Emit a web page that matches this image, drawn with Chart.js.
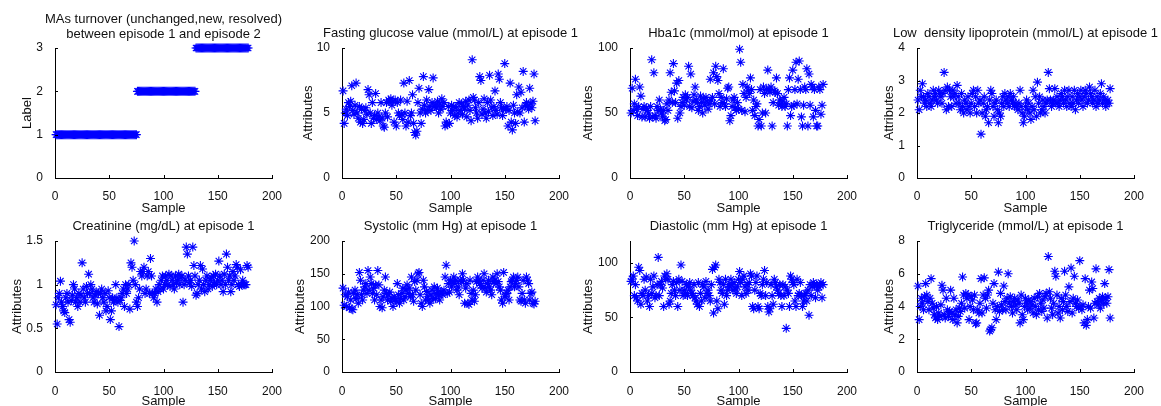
<!DOCTYPE html>
<html>
<head>
<meta charset="utf-8">
<script src="https://cdn.jsdelivr.net/npm/chart.js@4"></script>
<style>
  html, body { margin: 0; padding: 0; background: #fff; overflow: hidden; width: 1161px; height: 406px; }
  canvas { position: absolute; }
</style>
</head>
<body>
<script>
// values, one per sample (sample = index + 1)
const sampleTicks = [0, 50, 100, 150, 200];

const turnoverLabel = [
  1,1,1,1,1,1,1,1,1,1,1,1,1,1,1,1,1,1,1,1,1,1,1,1,1,
  1,1,1,1,1,1,1,1,1,1,1,1,1,1,1,1,1,1,1,1,1,1,1,1,1,
  1,1,1,1,1,1,1,1,1,1,1,1,1,1,1,1,1,1,1,1,1,1,1,1,1,
  2,2,2,2,2,2,2,2,2,2,2,2,2,2,2,2,2,2,2,2,2,2,2,2,2,
  2,2,2,2,2,2,2,2,2,2,2,2,2,2,2,2,2,2,2,2,2,2,2,2,2,
  2,2,2,2,
  3,3,3,3,3,3,3,3,3,3,3,3,3,3,3,3,3,3,3,3,3,3,3,3,3,
  3,3,3,3,3,3,3,3,3,3,3,3,3,3,3,3,3,3,3,3,3,3,3,3
];

const glucose = [
  6.7, 4.2, 5.0, 5.3, 4.8, 5.8, 5.5, 5.9, 7.1, 5.2,
  4.9, 5.6, 7.3, 5.0, 4.6, 5.5, 4.3, 5.3, 4.2, 4.5,
  5.2, 5.4, 4.9, 6.8, 6.4, 5.0, 4.2, 5.8, 4.6, 4.8,
  6.5, 4.5, 5.0, 4.7, 4.4, 5.8, 4.6, 4.0, 3.9, 5.0,
  5.8, 4.7, 6.0, 5.9, 6.1, 5.6, 5.9, 4.3, 6.0, 4.0,
  5.8, 5.0, 4.8, 6.0, 4.9, 4.5, 7.3, 5.0, 4.0, 5.9,
  4.3, 7.5, 4.8, 5.0, 6.4, 4.2, 3.5, 3.3, 3.6, 5.8,
  6.9, 5.0, 4.2, 5.3, 7.8, 5.6, 5.0, 6.0, 5.2, 6.8,
  5.5, 5.2, 5.8, 7.7, 5.5, 5.6, 5.4, 5.9, 5.0, 5.7,
  5.3, 6.1, 5.5, 5.8, 4.0, 4.3, 4.1, 5.5, 4.2, 5.0,
  5.6, 5.2, 5.5, 4.8, 5.4, 4.7, 5.0, 5.8, 5.2, 5.7,
  4.9, 5.5, 5.3, 5.9, 4.7, 5.6, 6.0, 5.2, 4.4, 9.1,
  6.2, 6.0, 5.4, 5.0, 4.6, 5.8, 7.8, 7.5, 4.9, 5.3,
  6.1, 5.0, 4.6, 5.8, 5.1, 7.9, 6.0, 5.4, 4.8, 5.5,
  6.7, 5.2, 4.9, 8.0, 7.6, 5.8, 5.4, 4.8, 5.3, 8.8,
  5.3, 5.5, 4.0, 5.2, 7.3, 4.3, 3.7, 5.6, 5.0, 4.2,
  6.4, 5.1, 7.0, 5.0, 6.6, 5.4, 8.2, 4.3, 5.6, 5.8,
  5.5, 5.3, 6.9, 5.7, 5.4, 5.9, 8.0, 4.4
];

const hba1c = [
  50, 69, 52, 57, 76, 53, 48, 55, 70, 63,
  47, 53, 55, 47, 54, 52, 50, 46, 55, 91,
  47, 81, 48, 46, 55, 52, 60, 53, 50, 47,
  52, 44, 45, 57, 52, 60, 81, 66, 58, 88,
  67, 58, 73, 46, 75, 50, 55, 58, 62, 56,
  64, 60, 62, 86, 55, 80, 54, 59, 64, 70,
  60, 58, 52, 55, 63, 58, 50, 61, 56, 62,
  59, 53, 57, 76, 60, 62, 81, 57, 86, 78,
  75, 65, 55, 62, 58, 84, 57, 55, 61, 69,
  70, 44, 48, 55, 60, 62, 54, 52, 58, 53,
  99, 89, 52, 72, 65, 51, 62, 70, 67, 65,
  77, 68, 52, 60, 48, 55, 57, 40, 45, 68,
  40, 50, 70, 65, 50, 68, 83, 68, 66, 70,
  40, 58, 67, 66, 77, 65, 56, 60, 57, 55,
  59, 62, 55, 57, 40, 68, 77, 48, 55, 83,
  56, 68, 89, 57, 76, 90, 68, 47, 40, 56,
  70, 68, 84, 40, 80, 56, 72, 70, 47, 68,
  52, 40, 40, 70, 68, 49, 56, 72
];

const ldl = [
  2.4, 2.1, 2.7, 2.5, 2.9, 2.5, 2.3, 2.4, 2.2, 2.6,
  2.5, 2.3, 2.2, 2.4, 2.7, 2.5, 2.6, 2.4, 2.3, 2.7,
  2.6, 2.5, 2.3, 2.6, 3.25, 2.7, 2.1, 2.8, 2.2, 2.7,
  2.5, 2.2, 2.7, 2.5, 2.6, 2.3, 2.85, 2.5, 2.3, 2.1,
  2.6, 2.2, 2.0, 2.4, 2.3, 2.1, 2.5, 2.2, 2.0, 2.3,
  2.6, 2.7, 2.2, 2.5, 2.0, 2.7, 2.3, 2.4, 1.35, 2.0,
  2.3, 2.5, 1.9, 2.1, 2.2, 1.7, 2.4, 2.7, 2.6, 2.2,
  1.9, 2.3, 2.4, 2.1, 1.7, 2.0, 1.9, 2.3, 2.5, 2.2,
  2.6, 2.4, 2.3, 2.5, 2.2, 2.6, 2.4, 2.3, 2.5, 2.2,
  2.3, 2.2, 2.1, 2.3, 2.7, 2.2, 2.0, 1.7, 1.9, 2.2,
  2.4, 2.1, 2.3, 2.0, 1.8, 2.2, 2.7, 2.1, 2.5, 1.9,
  2.95, 2.3, 2.5, 2.0, 2.1, 2.4, 2.2, 2.0, 2.3, 2.4,
  3.25, 2.75, 2.4, 2.2, 2.3, 2.4, 2.75, 2.3, 2.5, 2.3,
  2.2, 2.4, 2.6, 2.5, 2.3, 2.7, 2.4, 2.2, 2.5, 2.7,
  2.3, 2.2, 2.5, 2.3, 2.7, 2.1, 2.4, 2.6, 2.3, 2.5,
  2.7, 2.4, 2.2, 2.5, 2.7, 2.6, 2.3, 2.4, 2.8, 2.6,
  2.5, 2.3, 2.4, 2.7, 2.2, 2.5, 2.3, 2.4, 2.6, 2.9,
  2.3, 2.5, 2.4, 2.2, 2.3, 2.4, 2.3, 2.75
];

const creatinine = [
  0.77, 0.55, 0.85, 0.9, 1.04, 0.8, 0.75, 0.7, 0.68, 0.85,
  0.9, 0.8, 0.6, 0.57, 0.82, 0.88, 1.0, 0.95, 0.8, 0.85,
  0.75, 0.9, 0.8, 0.88, 1.25, 0.95, 0.85, 0.8, 0.98, 0.9,
  1.12, 0.9, 1.0, 0.95, 0.85, 0.8, 0.88, 0.92, 0.78, 0.9,
  0.65, 0.9, 0.95, 0.85, 0.8, 0.9, 0.7, 0.75, 0.93, 0.85,
  0.6, 0.7, 0.85, 0.8, 0.82, 1.0, 0.85, 0.8, 0.52, 0.82,
  0.85, 0.9, 0.95, 0.75, 1.0, 0.9, 0.95, 1.0, 0.72, 1.25,
  1.2, 1.05, 1.5, 1.0, 0.8, 0.75, 0.85, 0.95, 1.15, 1.1,
  1.15, 1.2, 0.9, 0.95, 1.1, 1.15, 0.9, 1.3, 1.1, 0.9,
  0.85, 0.9, 0.95, 0.8, 0.92, 1.0, 0.95, 1.05, 1.1, 0.95,
  1.0, 1.1, 1.05, 1.0, 1.12, 0.98, 1.1, 1.05, 1.0, 0.95,
  1.1, 1.02, 1.05, 1.12, 1.0, 1.08, 1.1, 0.8, 1.0, 1.05,
  1.43, 1.35, 1.1, 1.02, 1.05, 0.98, 1.43, 1.22, 1.1, 0.88,
  0.9, 1.0, 1.05, 1.22, 0.95, 1.18, 1.0, 0.92, 1.05, 1.1,
  0.95, 1.0, 1.05, 1.08, 0.98, 1.1, 1.02, 1.12, 1.0, 1.05,
  1.27, 1.1, 1.0, 1.05, 0.92, 1.12, 1.0, 1.35, 1.2, 1.05,
  1.1, 0.92, 1.0, 1.15, 1.05, 1.1, 1.23, 1.2, 1.0, 0.98,
  1.17, 1.0, 1.05, 1.0, 1.0, 1.0, 1.22, 1.2
];

const systolic = [
  128, 102, 118, 100, 115, 122, 98, 110, 96, 95,
  120, 125, 112, 118, 105, 152, 140, 118, 110, 125,
  130, 135, 120, 155, 125, 145, 135, 120, 128, 110,
  133, 118, 155, 133, 100, 110, 98, 115, 125, 145,
  120, 110, 118, 122, 108, 112, 100, 115, 110, 108,
  135, 118, 105, 112, 120, 128, 110, 115, 125, 133,
  120, 128, 115, 145, 118, 108, 138, 125, 140, 150,
  152, 118, 105, 100, 140, 130, 110, 123, 115, 110,
  105, 118, 125, 112, 130, 112, 120, 128, 118, 110,
  122, 120, 118, 125, 145, 163, 120, 135, 122, 140,
  130, 138, 145, 135, 140, 125, 130, 118, 140, 138,
  150, 140, 105, 128, 135, 105, 103, 140, 120, 110,
  125, 108, 118, 138, 145, 140, 135, 132, 128, 140,
  150, 128, 122, 135, 140, 130, 125, 118, 145, 138,
  140, 135, 150, 138, 130, 125, 110, 105, 152, 115,
  118, 120, 125, 110, 130, 138, 140, 145, 130, 135,
  140, 145, 130, 110, 108, 120, 140, 110, 105, 145,
  140, 135, 110, 120, 122, 105, 104, 108
];

const diastolic = [
  83, 85, 88, 70, 80, 68, 65, 96, 93, 62,
  72, 70, 85, 75, 87, 65, 70, 60, 85, 72,
  78, 88, 68, 70, 80, 105, 70, 80, 83, 77,
  60, 88, 85, 90, 85, 62, 65, 72, 80, 83,
  75, 70, 82, 60, 85, 75, 98, 83, 70, 75,
  72, 80, 70, 78, 82, 75, 72, 70, 80, 68,
  65, 62, 82, 60, 72, 65, 80, 78, 68, 83,
  72, 75, 70, 65, 80, 94, 54, 96, 98, 65,
  58, 85, 82, 75, 72, 80, 62, 85, 70, 75,
  80, 78, 85, 80, 75, 82, 76, 72, 78, 85,
  92, 82, 70, 85, 88, 78, 72, 80, 75, 82,
  90, 88, 60, 58, 75, 82, 88, 60, 58, 72,
  70, 80, 85, 93, 70, 82, 60, 55, 58, 80,
  70, 62, 85, 82, 78, 75, 72, 80, 70, 60,
  80, 70, 78, 40, 75, 72, 60, 88, 85, 82,
  80, 65, 60, 85, 70, 72, 82, 70, 60, 65,
  70, 72, 65, 75, 52, 80, 70, 78, 82, 80,
  68, 80, 75, 78, 80, 82, 68, 80
];

const triglyceride = [
  5.25, 3.2, 4.0, 4.5, 4.2, 3.8, 4.6, 5.4, 4.7, 4.3,
  3.8, 4.5, 5.7, 4.2, 3.9, 3.5, 3.3, 4.0, 3.2, 3.6,
  3.4, 4.1, 5.3, 5.0, 3.5, 3.3, 4.5, 3.8, 3.4, 3.7,
  5.0, 3.6, 3.2, 4.5, 3.5, 3.8, 3.0, 3.4, 3.9, 3.7,
  4.2, 5.8, 4.7, 3.9, 4.8, 4.5, 4.7, 3.2, 4.0, 4.6,
  4.4, 3.8, 4.7, 2.95, 3.0, 3.8, 3.6, 4.2, 5.7, 3.6,
  4.7, 5.75, 4.5, 3.9, 4.7, 5.0, 2.5, 2.6, 2.7, 4.2,
  5.4, 3.8, 3.2, 4.0, 6.1, 3.7, 4.8, 4.1, 3.8, 5.25,
  4.3, 3.8, 4.5, 6.0, 4.2, 4.6, 4.0, 3.6, 4.3, 4.5,
  4.1, 3.8, 4.4, 4.2, 3.0, 4.7, 3.5, 3.2, 4.0, 4.5,
  4.2, 3.8, 4.4, 3.9, 4.3, 4.1, 3.6, 4.5, 4.0, 3.5,
  4.6, 3.8, 4.8, 4.2, 3.7, 4.4, 3.9, 4.6, 4.8, 3.3,
  7.05, 4.9, 4.5, 3.9, 3.5, 4.2, 6.15, 5.85, 4.7, 3.6,
  4.0, 3.3, 4.5, 3.8, 4.3, 6.15, 4.7, 4.0, 3.7, 5.2,
  4.3, 6.35, 3.6, 4.5, 5.85, 4.2, 4.0, 4.4, 3.9, 6.8,
  4.0, 3.8, 4.1, 3.0, 5.7, 2.85, 3.2, 4.0, 5.0, 3.9,
  5.5, 5.1, 3.3, 4.2, 6.3, 4.3, 4.1, 4.5, 3.9, 4.4,
  4.6, 4.2, 5.4, 4.5, 4.2, 4.6, 6.25, 3.3
];

const fontFamily = '"Liberation Sans", Arial, Helvetica, sans-serif';
const textColor = '#111';

const panels = [
  { title: ['MAs turnover (unchanged,new, resolved)', 'between episode 1 and episode 2'], yLabel: 'Label',
    values: turnoverLabel, yMax: 3, yTicks: [0, 1, 2, 3], left: 55, top: 48, h: 130, yPad: 24.7, row: 0 },
  { title: 'Fasting glucose value (mmol/L) at episode 1', yLabel: 'Attributes',
    values: glucose, yMax: 10, yTicks: [0, 5, 10], left: 342, top: 48, h: 130, yPad: 18.2, row: 0 },
  { title: 'Hba1c (mmol/mol) at episode 1', yLabel: 'Attributes',
    values: hba1c, yMax: 100, yTicks: [0, 50, 100], left: 630, top: 48, h: 130, yPad: 10.2, row: 0 },
  { title: 'Low  density lipoprotein (mmol/L) at episode 1', yLabel: 'Attributes',
    values: ldl, yMax: 4, yTicks: [0, 1, 2, 3, 4], left: 917, top: 48, h: 130, yPad: 24.2, row: 0 },
  { title: 'Creatinine (mg/dL) at episode 1', yLabel: 'Attributes',
    values: creatinine, yMax: 1.5, yTicks: [0, 0.5, 1, 1.5], left: 55, top: 241, h: 131, yPad: 14.7, row: 1 },
  { title: 'Systolic (mm Hg) at episode 1', yLabel: 'Attributes',
    values: systolic, yMax: 200, yTicks: [0, 50, 100, 150, 200], left: 342, top: 241, h: 131, yPad: 10.2, row: 1 },
  { title: 'Diastolic (mm Hg) at episode 1', yLabel: 'Attributes',
    values: diastolic, yMax: 120, yTicks: [0, 50, 100], left: 630, top: 241, h: 131, yPad: 10.2, row: 1 },
  { title: 'Triglyceride (mmol/L) at episode 1', yLabel: 'Attributes',
    values: triglyceride, yMax: 8, yTicks: [0, 2, 4, 6, 8], left: 917, top: 241, h: 131, yPad: 24.2, row: 1 }
];

// MATLAB style: short tick marks pointing into the axes
const inwardTicks = {
  id: 'inwardTicks',
  afterDraw(chart) {
    const { ctx, chartArea: a, scales: { x, y } } = chart;
    ctx.save();
    ctx.strokeStyle = '#000';
    ctx.lineWidth = 1;
    ctx.beginPath();
    x.ticks.forEach(t => {
      const px = Math.round(x.getPixelForValue(t.value)) + 0.5;
      ctx.moveTo(px, a.bottom);
      ctx.lineTo(px, a.bottom - 3);
    });
    y.ticks.forEach(t => {
      const py = Math.round(y.getPixelForValue(t.value)) + 0.5;
      ctx.moveTo(a.left, py);
      ctx.lineTo(a.left + 3, py);
    });
    ctx.stroke();
    ctx.restore();
  }
};

const plotW = 217;
const sideW = 60;

panels.forEach(p => {
  const cv = document.createElement('canvas');
  cv.width = plotW + 2 * sideW;
  cv.height = p.h + 85;
  cv.style.left = (p.left - sideW) + 'px';
  cv.style.top = (p.top - 45) + 'px';
  document.body.appendChild(cv);

  const twoLines = Array.isArray(p.title);

  new Chart(cv, {
    type: 'scatter',
    data: {
      datasets: [{
        data: p.values.map((v, i) => ({ x: i + 1, y: v })),
        pointStyle: 'star',
        radius: 4.5,
        hoverRadius: 4.5,
        borderColor: '#0000ff',
        backgroundColor: '#0000ff',
        borderWidth: 1.1,
        clip: false
      }]
    },
    options: {
      responsive: false,
      animation: false,
      devicePixelRatio: 1,
      events: [],
      layout: { padding: 0 },
      plugins: {
        legend: { display: false },
        tooltip: { enabled: false },
        title: {
          display: true,
          text: p.title,
          color: textColor,
          font: { family: fontFamily, size: 13, weight: 'normal', lineHeight: twoLines ? 1.154 : 1.2 },
          padding: twoLines ? { top: 8.5, bottom: 6.5 } : { top: 22.8, bottom: 6.6 }
        }
      },
      scales: {
        x: {
          type: 'linear',
          min: 0,
          max: 200,
          afterBuildTicks: s => { s.ticks = sampleTicks.map(v => ({ value: v })); },
          afterFit: s => { s.height = 40; },
          grid: { display: false },
          border: { display: true, color: '#000', width: 1 },
          ticks: {
            color: textColor,
            font: { family: fontFamily, size: 12 },
            padding: p.row === 0 ? 3 : 4,
            maxRotation: 0,
            autoSkip: false,
            callback: v => String(v)
          },
          title: {
            display: true,
            text: 'Sample',
            color: textColor,
            font: { family: fontFamily, size: 13 },
            padding: { top: 0, bottom: p.row === 0 ? 2.2 : 3 }
          }
        },
        y: {
          type: 'linear',
          min: 0,
          max: p.yMax,
          afterBuildTicks: s => { s.ticks = p.yTicks.map(v => ({ value: v })); },
          afterFit: s => { s.width = sideW; },
          grid: { display: false },
          border: { display: true, color: '#000', width: 1 },
          ticks: {
            color: textColor,
            font: { family: fontFamily, size: 12 },
            padding: 4,
            autoSkip: false,
            callback: v => String(v)
          },
          title: {
            display: true,
            text: p.yLabel,
            color: textColor,
            font: { family: fontFamily, size: 13 },
            padding: { top: p.yPad, bottom: 0 }
          }
        },
        // empty right-hand box, same width as the left axis, so the full-width title centres over the axes
        spacer: {
          type: 'linear',
          position: 'right',
          min: 0,
          max: 1,
          afterFit: s => { s.width = sideW; },
          grid: { display: false },
          border: { display: false },
          ticks: { display: false }
        }
      }
    },
    plugins: [inwardTicks]
  });
});
</script>
</body>
</html>
